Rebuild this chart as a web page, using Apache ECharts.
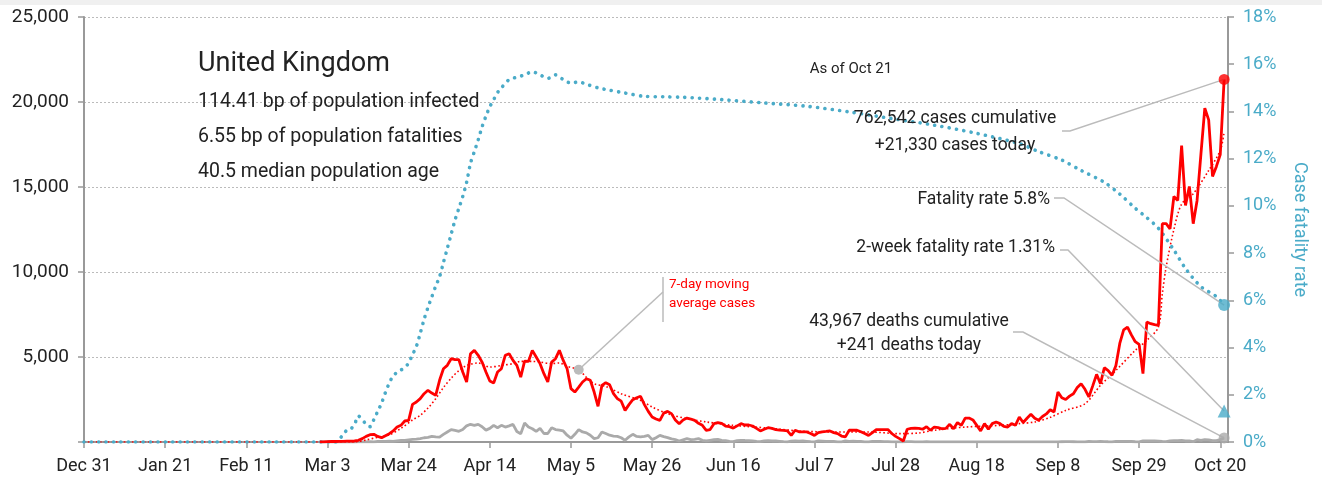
<!DOCTYPE html>
<html>
<head>
<meta charset="utf-8">
<script src="https://cdn.jsdelivr.net/npm/echarts@6/dist/echarts.min.js"></script>
<style>
  html, body { margin: 0; padding: 0; background: #fff; }
  #main { width: 1322px; height: 482px; }
</style>
</head>
<body>
<div id="main"></div>
<script>
var FONT = 'Roboto, "Liberation Sans", sans-serif';
var RED = '#ff0000', TEAL = '#4aabc8', GREY = '#aaaaaa', INK = '#222222';

// x axis: days since Dec 31, one label every 3 weeks
var xLabels = ['Dec 31', 'Jan 21', 'Feb 11', 'Mar 3', 'Mar 24', 'Apr 14', 'May 5', 'May 26',
               'Jun 16', 'Jul 7', 'Jul 28', 'Aug 18', 'Sep 8', 'Sep 29', 'Oct 20'];
var lastDay = 295; // Oct 21

// daily new cases, from day 61 (Mar 1)
var casesStart = 61;
var cases = [
  10, 10, 20, 30, 30, 40, 40, 50, 50, 60,
  100, 200, 330, 430, 450, 330, 250, 370, 490, 650,
  880, 980, 1235, 1270, 2210, 2350, 2550, 2840, 3040, 2880,
  2740, 3630, 4310, 4510, 4900, 4840, 4840, 4120, 3530, 5190,
  5390, 5100, 4700, 4120, 3590, 3470, 4120, 4310, 5100, 5190,
  4800, 4510, 3820, 4760, 4740, 5390, 5000, 4610, 4020, 3530,
  4700, 4900, 5390, 4800, 4310, 3140, 2940, 3230, 3530, 3720,
  3630, 2940, 2100, 3330, 3490, 3370, 2840, 2550, 2400, 1860,
  2200, 2490, 2600, 2690, 2200, 1800, 1470, 1350, 1270, 1700,
  1800, 1670, 1300, 1080, 1300, 1410, 1350, 1270, 1100, 980,
  690, 730, 1080, 1140, 1100, 940, 900, 820, 950, 1080,
  1000, 1000, 940, 800, 650, 750, 840, 800, 730, 700,
  680, 650, 390, 690, 600, 590, 590, 500, 390, 550,
  600, 620, 650, 550, 490, 350, 300, 690, 700, 690,
  600, 500, 390, 550, 730, 730, 730, 730, 500, 330,
  200, 60, 750, 800, 820, 800, 750, 900, 690, 880,
  850, 780, 800, 1040, 780, 1140, 980, 1410, 1410, 1300,
  980, 650, 1080, 750, 1080, 1180, 1080, 920, 880, 1080,
  980, 1470, 1150, 1400, 1630, 1400, 1280, 1500, 1650, 1900,
  1770, 2940, 2600, 2500, 2700, 2840, 3200, 3430, 3100, 2650,
  3300, 3980, 3430, 4370, 4200, 3920, 4500, 5800, 6600, 6760,
  6300, 5900, 5740, 4020, 7060, 6960, 6900, 6860, 12840, 12840,
  12540, 14440, 14210, 17440, 13920, 15030, 12840, 14210, 16950, 19640,
  18950, 15620, 16210, 16910, 21330
];

// daily deaths, from day 61 (Mar 1)
var deathsStart = 61;
var deaths = [
  0, 0, 0, 0, 0, 0, 0, 0, 0, 0,
  2, 10, 10, 20, 10, 30, 35, 40, 50, 40,
  70, 90, 100, 130, 160, 170, 200, 250, 270, 330,
  300, 290, 450, 590, 730, 680, 630, 730, 950, 1040,
  980, 1040, 900, 700, 800, 980, 840, 980, 880, 950,
  1040, 620, 490, 1120, 880, 780, 620, 800, 500, 500,
  840, 730, 700, 650, 400, 220, 450, 730, 590, 540,
  400, 200, 250, 590, 500, 400, 350, 330, 250, 100,
  300, 450, 330, 300, 335, 390, 140, 250, 390, 320,
  260, 180, 140, 60, 130, 200, 140, 160, 200, 100,
  60, 100, 140, 150, 100, 80, 30, 20, 80, 100,
  90, 85, 70, 30, 20, 70, 80, 60, 60, 40,
  20, 10, 50, 60, 50, 60, 40, 20, 10, 60,
  50, 40, 40, 30, 10, 10, 60, 40, 50, 40,
  30, 10, 10, 40, 30, 30, 20, 20, 10, 10,
  10, 10, 20, 20, 10, 10, 10, 20, 10, 10,
  10, 10, 10, 10, 10, 10, 10, 10, 10, 10,
  5, 5, 10, 10, 10, 10, 5, 5, 5, 5,
  10, 10, 10, 5, 10, 10, 10, 10, 10, 10,
  5, 10, 15, 20, 20, 15, 10, 10, 10, 30,
  20, 25, 30, 25, 15, 10, 35, 35, 40, 40,
  30, 15, 10, 60, 70, 60, 65, 50, 30, 20,
  70, 75, 80, 90, 60, 70, 20, 140, 100, 140,
  130, 80, 80, 140, 241
];

// 7-day moving average of cases, [day, value]
var movingAvg = [
  [0, 0], [70, 0], [73, 120], [76, 280], [79, 420], [82, 800], [85, 1300], [87, 1570],
  [89, 2000], [91, 2550], [93, 3200], [95, 3750], [97, 4200], [99, 4500], [102, 4650],
  [105, 4410], [108, 4500], [111, 4610], [113, 4740], [116, 4740], [118, 4700], [121, 4610],
  [123, 4650], [125, 4450], [128, 4250], [130, 3800], [132, 3430], [135, 3270], [139, 2840],
  [144, 2450], [147, 2060], [151, 1670], [156, 1370], [161, 1180], [168, 980], [177, 820],
  [185, 650], [194, 590], [203, 590], [211, 490], [216, 530], [220, 690], [228, 880],
  [237, 980], [242, 1080], [246, 1180], [250, 1450], [254, 1860], [259, 2250], [263, 3330],
  [267, 4210], [272, 5390], [275, 5980], [278, 6760], [279, 8700], [280, 10300], [282, 12500],
  [284, 14000], [287, 14600], [291, 15970], [294, 17150], [295, 18230]
];
var maLabelIndex = 24; // point carrying the "7-day moving average" callout

// case fatality rate (%), [day, value]
var fatalityRate = [
  [0, 0], [65, 0], [67, 0.3], [68, 0.5], [69, 0.55], [70, 0.75], [71, 1.1], [72, 0.95],
  [73, 0.75], [74, 0.65], [75, 0.95], [76, 1.3], [77, 1.65], [78, 2.1], [79, 2.5], [80, 2.8],
  [81, 2.95], [82, 3.05], [83, 3.15], [84, 3.35], [85, 3.7], [86, 4.05], [87, 4.6], [88, 5.2],
  [89, 5.7], [90, 6.15], [91, 6.6], [92, 7.0], [93, 7.6], [94, 8.2], [95, 8.8], [96, 9.4],
  [97, 9.9], [98, 10.4], [99, 11.0], [100, 11.8], [101, 12.3], [102, 12.8], [103, 13.35],
  [104, 13.8], [105, 14.2], [106, 14.5], [107, 14.8], [108, 15.0], [110, 15.35], [112, 15.45],
  [114, 15.55], [116, 15.68], [118, 15.55], [120, 15.4], [122, 15.55], [124, 15.35],
  [126, 15.2], [128, 15.25], [130, 15.15], [133, 15.0], [136, 14.9], [140, 14.78],
  [145, 14.64], [150, 14.62], [155, 14.6], [165, 14.5], [176, 14.36], [187, 14.22],
  [198, 13.98], [209, 13.7], [220, 13.42], [231, 13.07], [242, 12.64], [247, 12.3],
  [253, 11.94], [258, 11.5], [264, 11.0], [268, 10.5], [272, 9.9], [275, 9.5], [278, 9.05],
  [282, 8.13], [285, 7.35], [289, 6.58], [293, 6.16], [295, 5.8]
];
var twoWeekRate = 1.31;

function toPairs(start, arr) {
  return arr.map(function (v, i) { return [start + i, v]; });
}
var casesData = toPairs(casesStart, cases);
var deathsData = toPairs(deathsStart, deaths);
var lastCases = cases[cases.length - 1];
var lastDeaths = deaths[deaths.length - 1];
var lastRate = fatalityRate[fatalityRate.length - 1][1];

var myChart = echarts.init(document.getElementById('main'));

function txt(x, y, text, size, align, color) {
  return {
    type: 'text', x: x, y: y, z: 50,
    style: {
      text: text, fontSize: size, fontFamily: FONT, fill: color || INK,
      align: align || 'left', verticalAlign: 'middle'
    }
  };
}

var option = {
  animation: false,
  backgroundColor: '#fff',
  textStyle: { fontFamily: FONT },
  grid: { left: 84, right: 94, top: 17, bottom: 40 },
  xAxis: {
    type: 'value', min: 0, max: 296, interval: 21,
    axisLine: { lineStyle: { color: '#999', width: 2 } },
    axisTick: { length: 6, lineStyle: { color: '#999', width: 1.5 } },
    axisLabel: {
      fontSize: 18, color: INK, fontFamily: FONT, margin: 15, showMaxLabel: false,
      formatter: function (v) { return xLabels[v / 21] || ''; }
    },
    splitLine: { show: false }
  },
  yAxis: [{
    type: 'value', min: 0, max: 25000, interval: 5000,
    axisLine: { show: true, lineStyle: { color: '#999', width: 2 } },
    axisTick: { show: true, length: 6, lineStyle: { color: '#999', width: 1.5 } },
    axisLabel: {
      fontSize: 19, color: INK, fontFamily: FONT, margin: 15,
      formatter: function (v) { return v === 0 ? '' : v.toLocaleString('en-US'); }
    },
    splitLine: { lineStyle: { color: '#bbb', type: [2, 2], width: 1 } }
  }, {
    type: 'value', min: 0, max: 18, interval: 2, position: 'right',
    name: 'Case fatality rate', nameLocation: 'middle', nameRotate: -90, nameGap: 62,
    nameTextStyle: { fontSize: 18, color: TEAL, fontFamily: FONT },
    axisLine: { show: true, lineStyle: { color: '#999', width: 2 } },
    axisTick: { show: true, length: 6, lineStyle: { color: '#999', width: 1.5 } },
    axisLabel: { fontSize: 18, color: TEAL, fontFamily: FONT, margin: 15, formatter: '{value}%' },
    splitLine: { show: false }
  }],
  series: [{
    name: 'deaths', type: 'line', data: deathsData, showSymbol: false, z: 2,
    lineStyle: { color: GREY, width: 2.8 }
  }, {
    name: 'cases', type: 'line', data: casesData, showSymbol: false, z: 4,
    lineStyle: { color: RED, width: 2.8 }
  }, {
    name: '7-day', type: 'line', data: movingAvg, showSymbol: false, smooth: 0.3, z: 3,
    lineStyle: { color: RED, width: 1.6, type: [1.6, 2.4] }
  }, {
    name: 'cfr', type: 'line', yAxisIndex: 1, data: fatalityRate, showSymbol: false, smooth: 0.3, z: 3,
    lineStyle: { color: TEAL, width: 3.6, type: [0.1, 7.3], cap: 'round' }
  }, {
    type: 'scatter', symbol: 'circle', symbolSize: 11, z: 10,
    itemStyle: { color: RED }, data: [[lastDay, lastCases]]
  }, {
    type: 'scatter', symbol: 'circle', symbolSize: 11, z: 10,
    itemStyle: { color: GREY }, data: [[lastDay, lastDeaths]]
  }, {
    type: 'scatter', yAxisIndex: 1, symbol: 'circle', symbolSize: 12, z: 10,
    itemStyle: { color: TEAL }, data: [[lastDay, lastRate]]
  }, {
    type: 'scatter', yAxisIndex: 1, symbol: 'triangle', symbolSize: 13, z: 10,
    itemStyle: { color: TEAL }, data: [[lastDay, twoWeekRate]]
  }]
};
myChart.setOption(option);

// callouts: texts at fixed spots, leader lines end on the data markers
var px = function (pt, yi) { return myChart.convertToPixel({ xAxisIndex: 0, yAxisIndex: yi }, pt); };
var pCases = px([lastDay, lastCases], 0);
var pDeaths = px([lastDay, lastDeaths], 0);
var pRate = px([lastDay, lastRate], 1);
var pTwoWeek = px([lastDay, twoWeekRate], 1);
var pMA = px(movingAvg[maLabelIndex], 0);

function leader(points) {
  return {
    type: 'polyline', z: 5, silent: true,
    shape: { points: points },
    style: { stroke: '#bbb', lineWidth: 1.5, fill: null }
  };
}

myChart.setOption({
  graphic: [
    { type: 'rect', shape: { x: 0, y: 0, width: 1322, height: 5 }, style: { fill: '#f0f0f0' }, z: 1 },
    txt(198, 64, 'United Kingdom', 27),
    txt(198, 102, '114.41 bp of population infected', 19.5),
    txt(198, 137, '6.55 bp of population fatalities', 19.5),
    txt(198, 172, '40.5 median population age', 19.5),
    txt(851, 69, 'As of Oct 21', 15, 'center'),
    txt(955, 119, '762,542 cases cumulative', 17.5, 'center'),
    txt(955, 146, '+21,330 cases today', 17.5, 'center'),
    txt(1050, 200, 'Fatality rate 5.8%', 17.5, 'right'),
    txt(1055, 248, '2-week fatality rate 1.31%', 17.5, 'right'),
    txt(909, 322, '43,967 deaths cumulative', 17.5, 'center'),
    txt(909, 346, '+241 deaths today', 17.5, 'center'),
    txt(669, 285, '7-day moving', 13.5, 'left', RED),
    txt(669, 304, 'average cases', 13.5, 'left', RED),
    leader([[1062, 131], [1070, 131], pCases]),
    leader([[1054, 198], [1064, 198], pRate]),
    leader([[1060, 250], [1068, 250], pTwoWeek]),
    leader([[1013, 332], [1023, 332], pDeaths]),
    leader([[663, 277], [663, 322]]),
    leader([[663, 292], pMA]),
    { type: 'circle', z: 6, shape: { cx: pMA[0], cy: pMA[1], r: 5 }, style: { fill: '#bbb' } }
  ]
});

window.addEventListener('resize', function () { myChart.resize(); });
</script>
</body>
</html>
